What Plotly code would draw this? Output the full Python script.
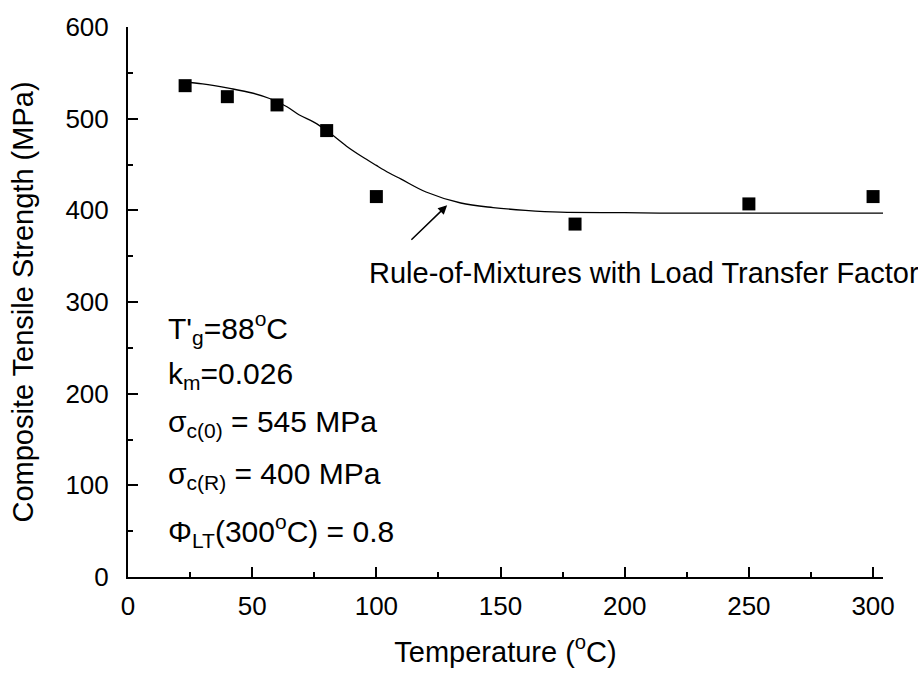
import plotly.graph_objects as go

# Measured data (squares)
temp_c = [23, 40, 60, 80, 100, 180, 250, 300]
strength_mpa = [536, 524, 515, 487, 415, 385, 407, 415]

# Model curve
curve_t = [23, 30, 41, 50, 57, 64, 69, 75, 80, 88, 94, 100, 105, 110, 120, 134, 147, 160, 174, 200, 214, 250, 304]
curve_s = [540, 538, 533, 528, 522, 513, 504, 496, 487, 470, 459, 449, 441, 434, 420, 408, 403, 400, 398, 397.5, 397, 397, 397]

x_tick_step = 50
y_tick_step = 100
x_range = [0, 304]
y_range = [0, 600]

FONT = "Liberation Sans, Arial, sans-serif"

fig = go.Figure()
fig.add_trace(go.Scatter(x=curve_t, y=curve_s, mode="lines", line=dict(color="black", width=1.3, shape="spline"),
                         showlegend=False, hoverinfo="skip"))
fig.add_trace(go.Scatter(x=temp_c, y=strength_mpa, mode="markers",
                         marker=dict(symbol="square", size=13, color="black"), showlegend=False))
# invisible trace so the overlay (minor-tick) axes are drawn
fig.add_trace(go.Scatter(x=temp_c, y=strength_mpa, xaxis="x2", yaxis="y2", mode="markers",
                         marker=dict(opacity=0), showlegend=False, hoverinfo="skip"))

ann_font = dict(family=FONT, size=30, color="black")
params = [
    ("T'<sub>g</sub>=88<sup>o</sup>C", 272),
    ("k<sub>m</sub>=0.026", 220),
    ("σ<sub>c(0)</sub> = 545 MPa", 167),
    ("σ<sub>c(R)</sub> = 400 MPa", 111),
    ("Φ<sub>LT</sub>(300<sup>o</sup>C) = 0.8", 50),
]
for txt, yv in params:
    fig.add_annotation(x=15.4, y=yv, xref="x", yref="y", text=txt, showarrow=False,
                       xanchor="left", yanchor="middle", font=ann_font)

fig.add_annotation(x=96.4, y=332, xref="x", yref="y", text="Rule-of-Mixtures with Load Transfer Factor",
                   showarrow=False, xanchor="left", yanchor="middle", font=dict(family=FONT, size=29, color="black"))
fig.add_annotation(x=128.5, y=405.5, ax=113.5, ay=366.4, xref="x", yref="y", axref="x", ayref="y",
                   text="", showarrow=True, arrowhead=2, arrowsize=1.2, arrowwidth=1.5, arrowcolor="black")

fig.update_layout(
    width=918, height=675,
    margin=dict(l=128, r=35, t=22, b=91),
    paper_bgcolor="white", plot_bgcolor="white",
    font=dict(family=FONT, color="black"),
    xaxis2=dict(overlaying="x", side="bottom", range=x_range, tickmode="linear", tick0=0, dtick=x_tick_step / 2,
                ticks="inside", ticklen=5, tickwidth=2, tickcolor="black", showticklabels=False,
                showline=False, showgrid=False, zeroline=False),
    yaxis2=dict(overlaying="y", side="left", range=y_range, tickmode="linear", tick0=0, dtick=y_tick_step / 2,
                ticks="inside", ticklen=5, tickwidth=2, tickcolor="black", showticklabels=False,
                showline=False, showgrid=False, zeroline=False),
)
fig.update_xaxes(selector=dict(anchor="y"))
fig.layout.xaxis.update(range=x_range, tickmode="linear", tick0=0, dtick=x_tick_step,
                        ticks="inside", ticklen=10, tickwidth=2, tickcolor="black",
                        showline=True, linewidth=2, linecolor="black", showgrid=False, zeroline=False,
                        tickfont=dict(size=26), ticklabelstandoff=5,
                        title=dict(text="Temperature (<sup>o</sup>C)", font=dict(size=29), standoff=21))
fig.layout.yaxis.update(range=y_range, tickmode="linear", tick0=0, dtick=y_tick_step,
                        ticks="inside", ticklen=10, tickwidth=2, tickcolor="black",
                        showline=True, linewidth=2, linecolor="black", showgrid=False, zeroline=False,
                        tickfont=dict(size=26), ticklabelstandoff=12,
                        title=dict(text="Composite Tensile Strength (MPa)", font=dict(size=29), standoff=23))

fig.write_html("out.html")
